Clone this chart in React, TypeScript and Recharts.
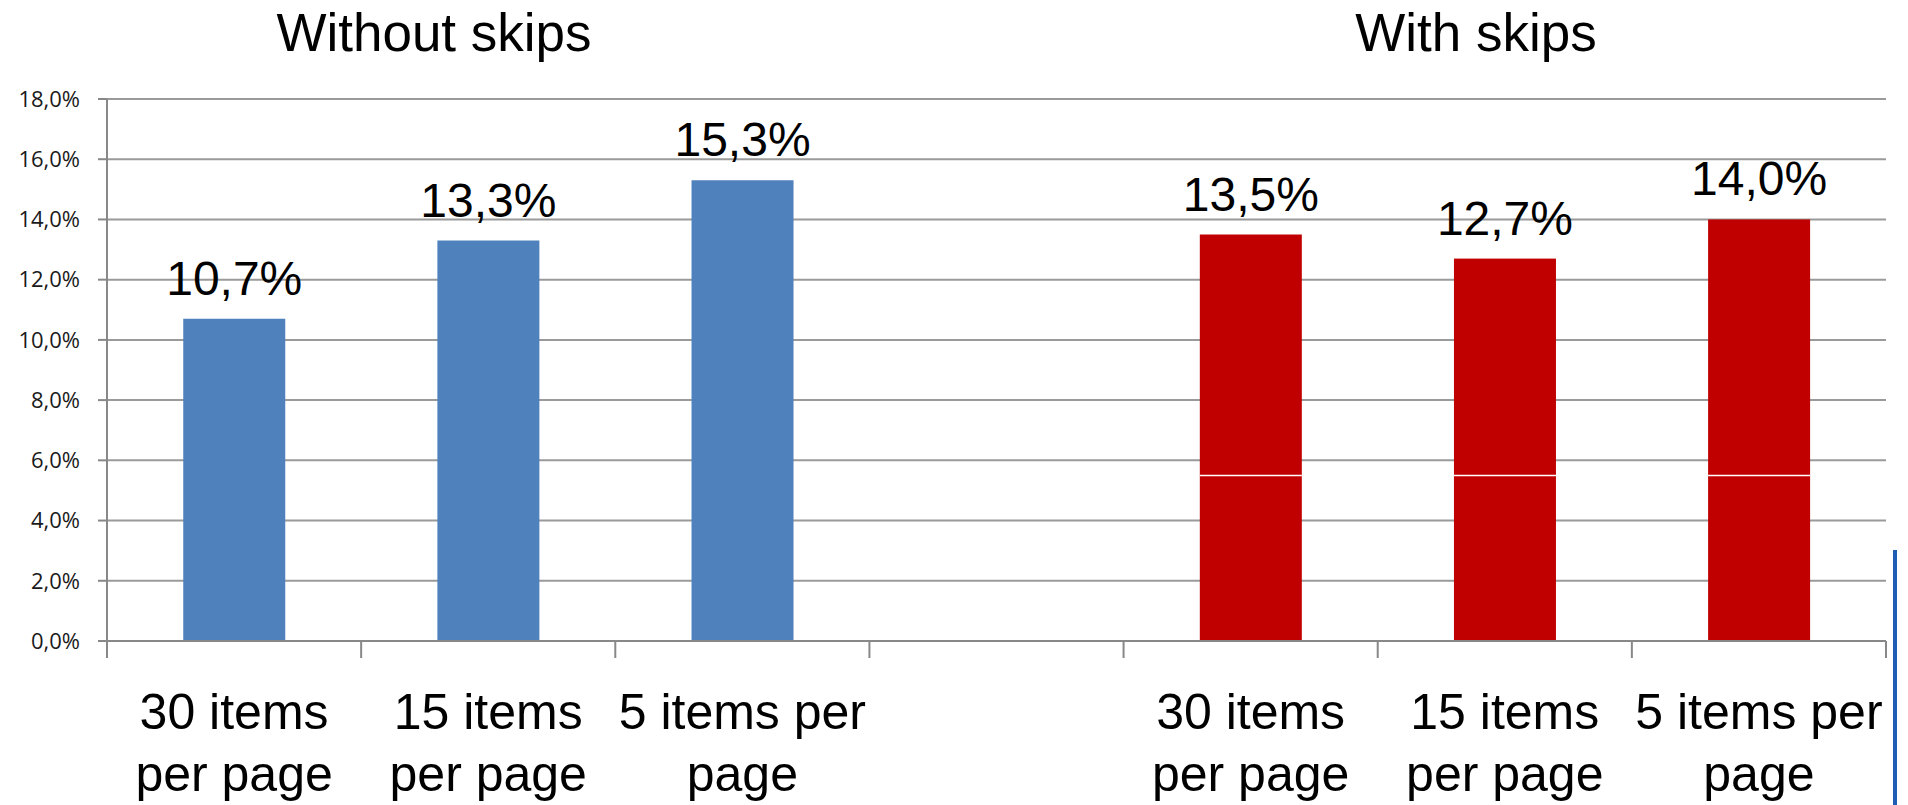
import { Bar, BarChart, CartesianGrid, LabelList, XAxis, YAxis } from 'recharts';

const categories = [
  '30 items|per page',
  '15 items|per page',
  '5 items per|page',
  '',
  '30 items|per page',
  '15 items|per page',
  '5 items per|page',
];
const withoutSkips = [10.7, 13.3, 15.3, null, null, null, null];
const withSkips = [null, null, null, null, 13.5, 12.7, 14.0];
const yTicks = [0, 2, 4, 6, 8, 10, 12, 14, 16, 18];
// faint white seam visible across the red bars in the original
const seamValue = 5.5;

const data = categories.map((label, i) => ({
  key: 'c' + i,
  label,
  without: withoutSkips[i],
  with: withSkips[i],
}));

const pct = (v: any) =>
  v === null || v === undefined ? '' : Number(v).toFixed(1).replace('.', ',') + '%';

const FONT = '"Liberation Sans", Arial, sans-serif';

const CategoryTick = (props: any) => {
  const { x, y, payload, index } = props;
  const half = payload.offset || 127;
  const lines = (categories[index] || '').split('|').filter(Boolean);
  return (
    <g>
      <line x1={x - half} y1={y} x2={x - half} y2={y + 17} stroke="#888" strokeWidth={2} />
      {index === categories.length - 1 && (
        <line x1={x + half} y1={y} x2={x + half} y2={y + 17} stroke="#888" strokeWidth={2} />
      )}
      {lines.map((l: string, j: number) => (
        <text
          key={j}
          x={x}
          y={y + 88 + j * 62}
          textAnchor="middle"
          fontFamily={FONT}
          fontSize={50}
          fill="#000"
        >
          {l}
        </text>
      ))}
    </g>
  );
};

const RedBar = (props: any) => {
  const { x, y, width, height, fill, payload } = props;
  if (!height || !payload || payload.with == null) return null;
  const seamY = y + height * (1 - seamValue / payload.with);
  return (
    <g>
      <rect x={x} y={y} width={width} height={height} fill={fill} />
      <line x1={x} x2={x + width} y1={seamY} y2={seamY} stroke="#fff" strokeWidth={1.5} />
    </g>
  );
};

const titleStyle: React.CSSProperties = {
  position: 'absolute',
  top: 0,
  fontFamily: FONT,
  fontSize: 53,
  color: '#000',
  transform: 'translateX(-50%)',
  whiteSpace: 'nowrap',
  lineHeight: '66px',
};

const App = () => {
  return (
    <div style={{ position: 'absolute', left: 0, top: 0, width: 1908, height: 805, background: '#fff', overflow: 'hidden' }}>
      <div style={{ ...titleStyle, left: 434 }}>Without skips</div>
      <div style={{ ...titleStyle, left: 1476 }}>With skips</div>
      <BarChart
        width={1908}
        height={805}
        data={data}
        margin={{ top: 99, right: 22, bottom: 0, left: 0 }}
        barCategoryGap="30%"
      >
        <CartesianGrid vertical={false} stroke="#9a9a9a" strokeWidth={2} />
        <XAxis
          dataKey="key"
          height={164}
          interval={0}
          tickLine={false}
          tickSize={0}
          tickMargin={0}
          axisLine={{ stroke: '#888', strokeWidth: 2 }}
          tick={<CategoryTick />}
        />
        <YAxis
          width={107}
          domain={[0, 18]}
          ticks={yTicks}
          interval={0}
          tickFormatter={pct}
          tickSize={9}
          tickMargin={18}
          axisLine={{ stroke: '#888', strokeWidth: 2 }}
          tickLine={{ stroke: '#888', strokeWidth: 2 }}
          tick={{ fontFamily: '"Open Sans", sans-serif', fontSize: 22, fill: '#1a1a1a' }}
        />
        <Bar dataKey="without" stackId="s" fill="#4F81BD" isAnimationActive={false}>
          <LabelList
            dataKey="without"
            position="top"
            offset={24}
            formatter={pct}
            style={{ fontFamily: FONT, fontSize: 48, fill: '#000' }}
          />
        </Bar>
        <Bar dataKey="with" stackId="s" fill="#C00000" shape={<RedBar />} isAnimationActive={false}>
          <LabelList
            dataKey="with"
            position="top"
            offset={24}
            formatter={pct}
            style={{ fontFamily: FONT, fontSize: 48, fill: '#000' }}
          />
        </Bar>
      </BarChart>
      <div style={{ position: 'absolute', left: 1893, top: 550, width: 4, height: 255, background: '#1f5fb3' }} />
    </div>
  );
};

export default App;
